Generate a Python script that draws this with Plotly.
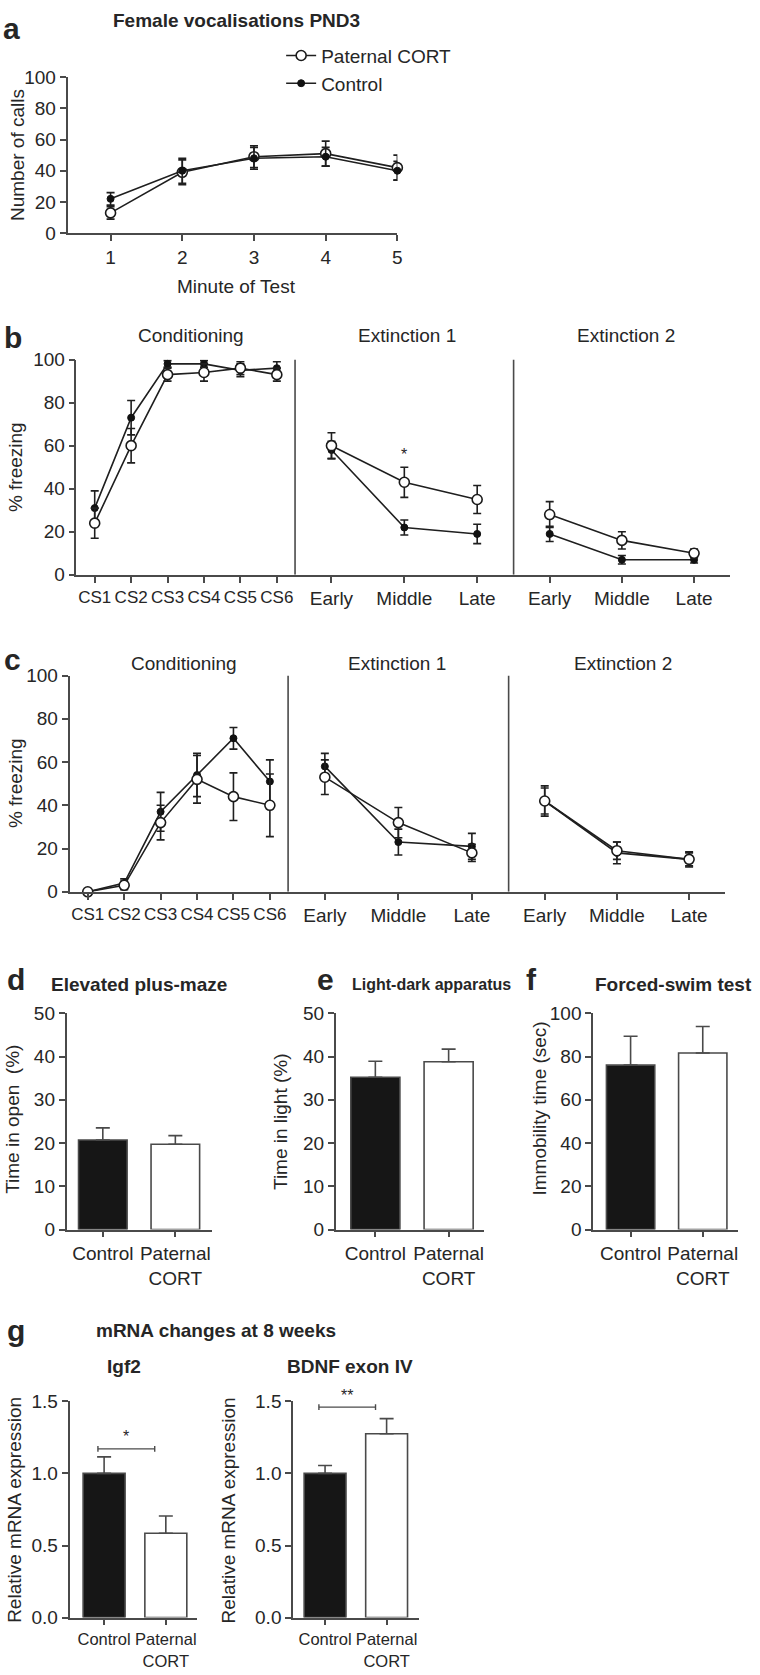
import plotly.graph_objects as go

W, H = 760, 1675
FONT = "Liberation Sans, Arial, sans-serif"
TXT = "#262626"
LINE = "#4a4a4a"
FS = 19

# ---------------- data ----------------
# a: female vocalisations PND3
minutes = [1, 2, 3, 4, 5]
a_cort = [13, 39, 49, 51, 42]
a_cort_err = [4, 8, 7, 8, 8]
a_ctrl = [22, 40, 48, 49, 40]
a_ctrl_err = [4, 8, 7, 6, 6]

cs_labels = ["CS1", "CS2", "CS3", "CS4", "CS5", "CS6"]
phase_labels = ["Early", "Middle", "Late"]

# b
b_cond_ctrl = [31, 73, 98, 98, 95, 96]
b_cond_ctrl_err = [8, 8, 1.5, 1.5, 3, 3]
b_cond_cort = [24, 60, 93, 94, 96, 93]
b_cond_cort_err = [7, 8, 3, 4, 3, 3]
b_ext1_ctrl = [58, 22, 19]
b_ext1_ctrl_err = [4, 3.5, 4.5]
b_ext1_cort = [60, 43, 35]
b_ext1_cort_err = [6, 7, 6.5]
b_ext2_ctrl = [19, 7, 7]
b_ext2_ctrl_err = [3.5, 2, 1.5]
b_ext2_cort = [28, 16, 10]
b_ext2_cort_err = [6, 4, 2]

# c
c_cond_ctrl = [0, 4, 37, 54, 71, 51]
c_cond_ctrl_err = [0.5, 2, 9, 10, 5, 10]
c_cond_cort = [0, 3, 32, 52, 44, 40]
c_cond_cort_err = [0.5, 2, 8, 11, 11, 14.5]
c_ext1_ctrl = [58, 23, 21]
c_ext1_ctrl_err = [6, 6, 6]
c_ext1_cort = [53, 32, 18]
c_ext1_cort_err = [8, 7, 4]
c_ext2_ctrl = [42, 18, 15]
c_ext2_ctrl_err = [7, 5, 3.5]
c_ext2_cort = [42, 19, 15]
c_ext2_cort_err = [6, 4, 3]

# d, e, f, g
groups = ["Control", "Paternal<br>CORT"]
epm = [20.7, 19.7]
epm_err = [2.8, 2.0]
ld = [35.2, 38.8]
ld_err = [3.7, 2.9]
fst = [76, 81.6]
fst_err = [13.4, 12.3]
igf2 = [1.0, 0.585]
igf2_err = [0.115, 0.12]
bdnf = [1.0, 1.275]
bdnf_err = [0.055, 0.105]
sig_levels = [1.17, 1.46]
sig_text = ["*", "**"]

# ---------------- helpers ----------------
def px_x(p):
    return p / W

def px_y(p):
    return 1 - p / H

fig = go.Figure()
layout = dict(
    width=W, height=H, margin=dict(l=0, r=0, t=0, b=0),
    paper_bgcolor="white", plot_bgcolor="white",
    font=dict(family=FONT, size=FS, color=TXT),
    showlegend=True,
)
annotations = []
shapes = []


def axis_common(**kw):
    d = dict(showgrid=False, zeroline=False, showline=True, linecolor=LINE,
             linewidth=1.6, ticks="outside", ticklen=6, tickwidth=1.6,
             tickcolor=LINE, tickfont=dict(size=FS, color=TXT), fixedrange=True)
    d.update(kw)
    return d


def text(x, y, s, size=FS, bold=False, angle=0, xanchor="center"):
    annotations.append(dict(
        x=px_x(x), y=px_y(y), xref="paper", yref="paper", text=(f"<b>{s}</b>" if bold else s),
        showarrow=False, font=dict(size=size, color=TXT, family=FONT), textangle=angle,
        xanchor=xanchor, yanchor="middle"))


def line_series(xv, yv, err, xa, ya, open_marker, name=None, legend=False):
    if open_marker:
        marker = dict(symbol="circle", size=10, color="white", line=dict(color="#1a1a1a", width=1.6))
    else:
        marker = dict(symbol="circle", size=7, color="#111111", line=dict(color="#111111", width=1))
    fig.add_trace(go.Scatter(
        x=xv, y=yv, mode="lines+markers", xaxis=xa, yaxis=ya,
        line=dict(color="#1f1f1f", width=1.6), marker=marker,
        error_y=dict(type="data", array=err, color="#1f1f1f", thickness=1.6, width=4),
        name=name, showlegend=legend, cliponaxis=False, hoverinfo="skip"))


# ---------------- panel a ----------------
layout["xaxis"] = axis_common(domain=[px_x(68), px_x(400)], range=[0.4, 5.0], anchor="y",
                              tickvals=minutes)
layout["yaxis"] = axis_common(domain=[px_y(226), px_y(68)], range=[0, 100], anchor="x",
                              tickvals=[0, 20, 40, 60, 80, 100])
line_series(minutes, a_cort, a_cort_err, "x", "y", True, "Paternal CORT", True)
line_series(minutes, a_ctrl, a_ctrl_err, "x", "y", False, "Control", True)
text(12, 19, "a", size=30, bold=True)
text(238, 11, "Female vocalisations PND3", bold=True)
text(17, 147, "Number of calls", angle=-90)
text(238, 280, "Minute of Test")

layout["legend"] = dict(x=px_x(283), y=px_y(27), xanchor="left", yanchor="top",
                        font=dict(size=FS, color=TXT), itemwidth=30, bgcolor="rgba(0,0,0,0)",
                        tracegroupgap=0)

# ---------------- panels b and c ----------------
def freezing_panel(letter, ytop, ybot, xb, yname, xnames, cond, ext1, ext2, title_y, letter_xy, ytitle_xy, star=None):
    layout["yaxis" + yname[1:]] = axis_common(domain=[px_y(ybot), px_y(ytop)], range=[0, 100],
                                              anchor=xnames[0], tickvals=[0, 20, 40, 60, 80, 100])
    ranges = [[-0.5, 5.5], [-0.5, 2.5], [-0.5, 2.5]]
    cats = [cs_labels, phase_labels, phase_labels]
    for i, xn in enumerate(xnames):
        key = "xaxis" + xn[1:]
        layout[key] = axis_common(domain=[px_x(xb[i]), px_x(xb[i + 1])], range=ranges[i],
                                  anchor=yname, type="category", categoryorder="array",
                                  categoryarray=cats[i],
                                  tickfont=dict(size=17 if i == 0 else FS, color=TXT))
    datasets = [cond, ext1, ext2]
    for i, xn in enumerate(xnames):
        ctrl, ctrl_e, cort, cort_e = datasets[i]
        line_series(cats[i], ctrl, ctrl_e, xn, yname, False)
        line_series(cats[i], cort, cort_e, xn, yname, True)
        if i > 0:
            shapes.append(dict(type="line", xref=f"{xn} domain", yref=yname, x0=0, x1=0, y0=0, y1=100,
                               line=dict(color=LINE, width=1.6)))
    titles = ["Conditioning", "Extinction 1", "Extinction 2"]
    for i in range(3):
        text(title_y[i][0], title_y[i][1], titles[i])
    text(letter_xy[0], letter_xy[1], letter, size=30, bold=True)
    text(ytitle_xy[0], ytitle_xy[1], "% freezing", angle=-90)
    if star is not None:
        xn, cat, yv = star
        annotations.append(dict(x=cat, y=yv, xref=xn, yref=yname, text="*", showarrow=False,
                                font=dict(size=16, color=TXT), yanchor="bottom"))


freezing_panel("b", 354, 572, [77, 297, 517, 735], "y2", ["x2", "x3", "x4"],
               (b_cond_ctrl, b_cond_ctrl_err, b_cond_cort, b_cond_cort_err),
               (b_ext1_ctrl, b_ext1_ctrl_err, b_ext1_cort, b_ext1_cort_err),
               (b_ext2_ctrl, b_ext2_ctrl_err, b_ext2_cort, b_ext2_cort_err),
               [(192, 330), (410, 330), (630, 330)], (13, 332), (15, 463),
               star=("x3", "Middle", b_ext1_cort[1] + b_ext1_cort_err[1] + 1))

freezing_panel("c", 674, 893, [70, 290, 512, 730], "y3", ["x5", "x6", "x7"],
               (c_cond_ctrl, c_cond_ctrl_err, c_cond_cort, c_cond_cort_err),
               (c_ext1_ctrl, c_ext1_ctrl_err, c_ext1_cort, c_ext1_cort_err),
               (c_ext2_ctrl, c_ext2_ctrl_err, c_ext2_cort, c_ext2_cort_err),
               [(185, 662), (400, 662), (627, 662)], (13, 658), (15, 783))

# ---------------- bar panels ----------------
def bar_panel(n, xl, xr, ytop, ybot, vals, errs, yrange, dtick, tick_size, xrange, width):
    xa, ya = f"x{n}", f"y{n}"
    layout[f"xaxis{n}"] = axis_common(domain=[px_x(xl), px_x(xr)], range=xrange, anchor=ya,
                                      type="category", categoryorder="array", categoryarray=groups,
                                      tickfont=dict(size=tick_size, color=TXT))
    layout[f"yaxis{n}"] = axis_common(domain=[px_y(ybot), px_y(ytop)], range=yrange, anchor=xa,
                                      dtick=dtick, tick0=0)
    fig.add_trace(go.Bar(
        x=groups, y=vals, xaxis=xa, yaxis=ya, width=width,
        marker=dict(color=["#161616", "white"], line=dict(color=LINE, width=1.6)),
        error_y=dict(type="data", symmetric=False, array=errs, arrayminus=[0, 0],
                     color=LINE, thickness=1.6, width=7),
        showlegend=False, hoverinfo="skip"))
    return xa, ya


bar_panel(8, 67, 213, 1016, 1235, epm, epm_err, [0, 50], 10, FS, [-0.5, 1.5], 0.67)
bar_panel(9, 338, 487, 1016, 1235, ld, ld_err, [0, 50], 10, FS, [-0.54, 1.48], 0.67)
bar_panel(10, 597, 743, 1016, 1235, fst, fst_err, [0, 100], 20, FS, [-0.52, 1.49], 0.67)
xg1, yg1 = bar_panel(11, 70, 198, 1409, 1628, igf2, igf2_err, [0, 1.5], 0.5, 16.5, [-0.56, 1.5], 0.68)
xg2, yg2 = bar_panel(12, 295, 422, 1409, 1628, bdnf, bdnf_err, [0, 1.5], 0.5, 16.5, [-0.52, 1.53], 0.68)
layout["yaxis11"]["tickformat"] = ".1f"
layout["yaxis12"]["tickformat"] = ".1f"

text(16, 982, "d", size=30, bold=True)
text(328, 982, "e", size=30, bold=True)
text(535, 982, "f", size=30, bold=True)
text(140, 987, "Elevated plus-maze", bold=True)
text(434, 987, "Light-dark apparatus", size=16, bold=True)
text(678, 987, "Forced-swim test", bold=True)
text(13, 1123, "Time in open  (%)", angle=-90)
text(283, 1126, "Time in light (%)", angle=-90)
text(543, 1112, "Immobility time (sec)", angle=-90)

text(16, 1337, "g", size=30, bold=True)
text(217, 1337, "mRNA changes at 8 weeks", bold=True)
text(125, 1374, "Igf2", bold=True)
text(352, 1374, "BDNF exon IV", bold=True)
text(15, 1519, "Relative mRNA expression", angle=-90)
text(230, 1519, "Relative mRNA expression", angle=-90)

# significance brackets (in data coordinates of each panel)
for (xa, ya), lvl, s in zip([(xg1, yg1), (xg2, yg2)], sig_levels, sig_text):
    shapes.append(dict(type="line", xref=xa, yref=ya, x0=-0.1, x1=0.82, y0=lvl, y1=lvl,
                       line=dict(color=LINE, width=1.4)))
    for xe in (-0.1, 0.82):
        shapes.append(dict(type="line", xref=xa, yref=ya, x0=xe, x1=xe, y0=lvl - 0.02, y1=lvl + 0.02,
                           line=dict(color=LINE, width=1.4)))
    annotations.append(dict(x=0.36, y=lvl + 0.01, xref=xa, yref=ya, text=s, showarrow=False,
                            font=dict(size=16, color=TXT), yanchor="bottom"))

layout["annotations"] = annotations
layout["shapes"] = shapes
fig.update_layout(**layout)
fig.write_html("out.html", config={"displayModeBar": False},
               post_script="document.body.style.margin='0';")
